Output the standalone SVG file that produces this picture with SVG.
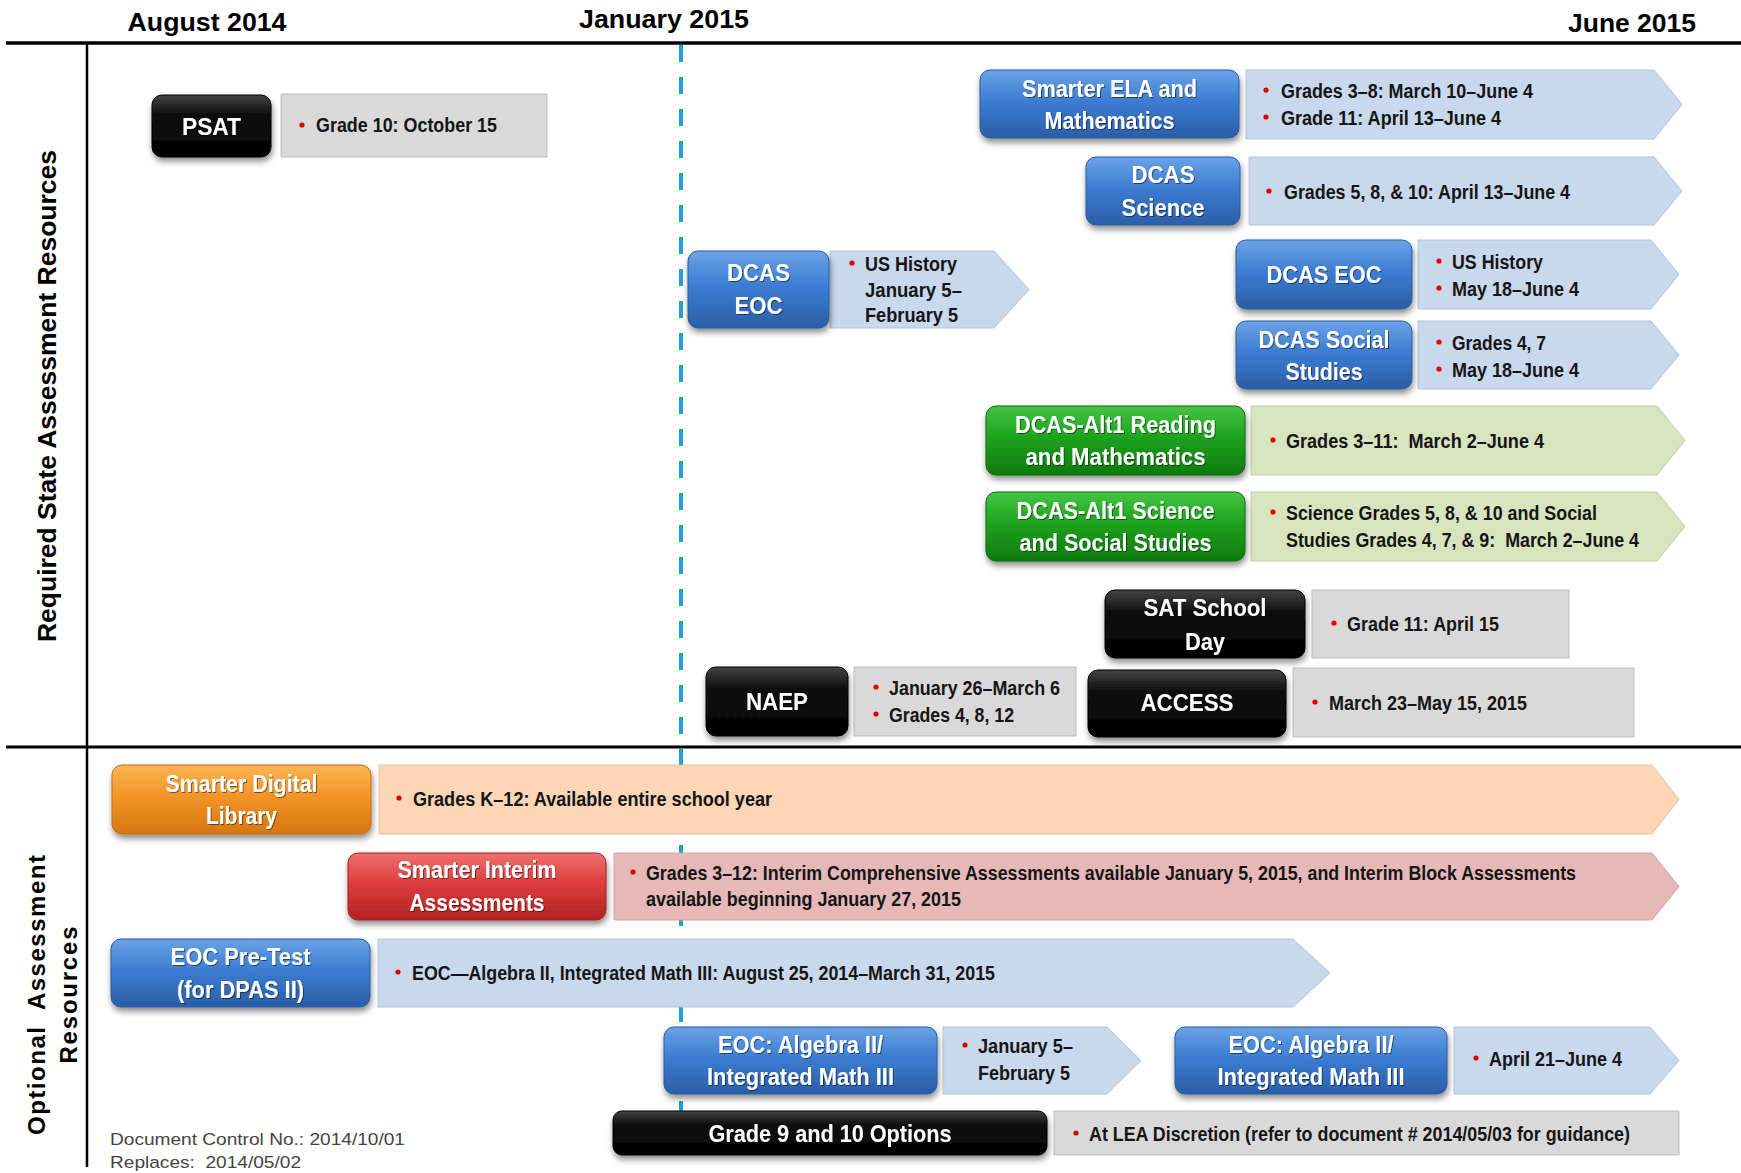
<svg xmlns="http://www.w3.org/2000/svg" width="1741" height="1173" viewBox="0 0 1741 1173">
<defs>
<linearGradient id="gBlue" x1="0" y1="0" x2="0" y2="1"><stop offset="0" stop-color="#6aa3e6"/><stop offset="0.45" stop-color="#3d7dd2"/><stop offset="1" stop-color="#2a5ea8"/></linearGradient>
<linearGradient id="gGreen" x1="0" y1="0" x2="0" y2="1"><stop offset="0" stop-color="#45c445"/><stop offset="0.45" stop-color="#1ea31e"/><stop offset="1" stop-color="#0e7a0e"/></linearGradient>
<linearGradient id="gOrange" x1="0" y1="0" x2="0" y2="1"><stop offset="0" stop-color="#fbb654"/><stop offset="0.45" stop-color="#f39428"/><stop offset="1" stop-color="#d77710"/></linearGradient>
<linearGradient id="gRed" x1="0" y1="0" x2="0" y2="1"><stop offset="0" stop-color="#ef7070"/><stop offset="0.45" stop-color="#dc3d3d"/><stop offset="1" stop-color="#b42222"/></linearGradient>
<linearGradient id="gBlack" x1="0" y1="0" x2="0" y2="1"><stop offset="0" stop-color="#444"/><stop offset="0.3" stop-color="#111"/><stop offset="1" stop-color="#000"/></linearGradient>
<filter id="sh" x="-10%" y="-20%" width="125%" height="150%"><feDropShadow dx="1" dy="4" stdDeviation="3" flood-color="#000" flood-opacity="0.45"/></filter>
<filter id="tsh" x="-5%" y="-20%" width="110%" height="150%"><feDropShadow dx="1" dy="1" stdDeviation="0.6" flood-color="#000" flood-opacity="0.5"/></filter>
</defs>
<style>
text{white-space:pre}
.hdr{font-family:"Liberation Sans",Arial,sans-serif;font-weight:bold;font-size:26px;fill:#000;text-anchor:middle}
.side{font-family:"Liberation Sans",Arial,sans-serif;font-weight:bold;fill:#000;text-anchor:middle}
.t{font-family:"Liberation Sans",Arial,sans-serif;font-weight:bold;font-size:24px;fill:#fff;text-anchor:middle}
.l{font-family:"Liberation Sans",Arial,sans-serif;font-weight:bold;font-size:20px;fill:#151515}
.doc{font-family:"Liberation Sans",Arial,sans-serif;font-size:16px;fill:#444}
.b{fill:#e00000}
.box{stroke-width:1}
.blue{fill:url(#gBlue);stroke:#2a5a9c}
.green{fill:url(#gGreen);stroke:#0d6d0d}
.orange{fill:url(#gOrange);stroke:#c46c10}
.red{fill:url(#gRed);stroke:#a02020}
.black{fill:url(#gBlack);stroke:#000}
.gray{fill:#d9d9d9;stroke:#bdbdbd;stroke-width:1}
.lblue{fill:#c8d8ed;stroke:#b3c4dc;stroke-width:1}
.lgreen{fill:#d8e4be;stroke:#c3d0a8;stroke-width:1}
.lorange{fill:#fcd6b6;stroke:#e8c2a2;stroke-width:1}
.lred{fill:#e6b9b8;stroke:#d2a4a3;stroke-width:1}
</style>
<rect width="1741" height="1173" fill="#fff"/>

<g id="connectors">
<line x1="681" y1="45" x2="681" y2="1160" stroke="#1ea0d8" stroke-width="4" stroke-dasharray="17 15"/>
<line x1="6" y1="43" x2="1741" y2="43" stroke="#000" stroke-width="3.5"/>
<line x1="6" y1="747" x2="1741" y2="747" stroke="#000" stroke-width="3"/>
<line x1="87" y1="43" x2="87" y2="1167" stroke="#000" stroke-width="2.5"/>
</g>

<g id="headers">
<text class="hdr" x="207" y="31" textLength="159" lengthAdjust="spacingAndGlyphs">August 2014</text>
<text class="hdr" x="664" y="28" textLength="170" lengthAdjust="spacingAndGlyphs">January 2015</text>
<text class="hdr" x="1632" y="32" textLength="128" lengthAdjust="spacingAndGlyphs">June 2015</text>
<text class="side" font-size="26" transform="translate(56,396) rotate(-90)" textLength="492" lengthAdjust="spacingAndGlyphs">Required State Assessment Resources</text>
<text class="side" font-size="24" transform="translate(45,995) rotate(-90)" textLength="280" lengthAdjust="spacing">Optional  Assessment</text>
<text class="side" font-size="24" transform="translate(77,995) rotate(-90)" textLength="137" lengthAdjust="spacing">Resources</text>
</g>

<g id="psat">
<polygon class="gray" points="281,94 547,94 547,157 281,157"/>
<rect class="box black" x="152" y="95" width="119" height="62" rx="10" filter="url(#sh)"/>
<text class="t" x="211.5" y="135" textLength="59" lengthAdjust="spacingAndGlyphs" filter="url(#tsh)">PSAT</text>
<circle class="b" cx="302" cy="125" r="2.6"/>
<text class="l" x="316" y="132" textLength="181" lengthAdjust="spacingAndGlyphs">Grade 10: October 15</text>
</g>

<g id="smarter-ela">
<polygon class="lblue" points="1246,70 1654,70 1682,104.5 1654,139 1246,139"/>
<rect class="box blue" x="980" y="70" width="259" height="68" rx="10" filter="url(#sh)"/>
<text class="t" x="1109.5" y="97" textLength="175" lengthAdjust="spacingAndGlyphs" filter="url(#tsh)">Smarter ELA and</text>
<text class="t" x="1109.5" y="129" textLength="130" lengthAdjust="spacingAndGlyphs" filter="url(#tsh)">Mathematics</text>
<circle class="b" cx="1266" cy="90" r="2.6"/>
<text class="l" x="1281" y="97.5" textLength="252" lengthAdjust="spacingAndGlyphs">Grades 3–8: March 10–June 4</text>
<circle class="b" cx="1266" cy="117" r="2.6"/>
<text class="l" x="1281" y="124.5" textLength="220" lengthAdjust="spacingAndGlyphs">Grade 11: April 13–June 4</text>
</g>

<g id="dcas-science">
<polygon class="lblue" points="1249,157 1654,157 1682,191 1654,225 1249,225"/>
<rect class="box blue" x="1086" y="157" width="154" height="68" rx="10" filter="url(#sh)"/>
<text class="t" x="1163" y="183" textLength="63" lengthAdjust="spacingAndGlyphs" filter="url(#tsh)">DCAS</text>
<text class="t" x="1163" y="216" textLength="83" lengthAdjust="spacingAndGlyphs" filter="url(#tsh)">Science</text>
<circle class="b" cx="1269" cy="191" r="2.6"/>
<text class="l" x="1284" y="198.5" textLength="286" lengthAdjust="spacingAndGlyphs">Grades 5, 8, &amp; 10: April 13–June 4</text>
</g>

<g id="dcas-eoc-jan">
<polygon class="lblue" points="830,251 994,251 1029,289.5 994,328 830,328"/>
<rect class="box blue" x="688" y="251" width="141" height="77" rx="10" filter="url(#sh)"/>
<text class="t" x="758.5" y="281" textLength="63" lengthAdjust="spacingAndGlyphs" filter="url(#tsh)">DCAS</text>
<text class="t" x="758.5" y="314" textLength="48" lengthAdjust="spacingAndGlyphs" filter="url(#tsh)">EOC</text>
<circle class="b" cx="852" cy="263" r="2.6"/>
<text class="l" x="865" y="270.5" textLength="92" lengthAdjust="spacingAndGlyphs">US History</text>
<text class="l" x="865" y="296.5" textLength="97" lengthAdjust="spacingAndGlyphs">January 5–</text>
<text class="l" x="865" y="321.5" textLength="93" lengthAdjust="spacingAndGlyphs">February 5</text>
</g>

<g id="dcas-eoc-may">
<polygon class="lblue" points="1418,240 1651,240 1679,274.5 1651,309 1418,309"/>
<rect class="box blue" x="1236" y="240" width="176" height="69" rx="10" filter="url(#sh)"/>
<text class="t" x="1324" y="283" textLength="115" lengthAdjust="spacingAndGlyphs" filter="url(#tsh)">DCAS EOC</text>
<circle class="b" cx="1439" cy="261" r="2.6"/>
<text class="l" x="1452" y="268.5" textLength="91" lengthAdjust="spacingAndGlyphs">US History</text>
<circle class="b" cx="1439" cy="288" r="2.6"/>
<text class="l" x="1452" y="295.5" textLength="127" lengthAdjust="spacingAndGlyphs">May 18–June 4</text>
</g>

<g id="dcas-social">
<polygon class="lblue" points="1418,321 1651,321 1679,355 1651,389 1418,389"/>
<rect class="box blue" x="1236" y="321" width="176" height="68" rx="10" filter="url(#sh)"/>
<text class="t" x="1324" y="348" textLength="131" lengthAdjust="spacingAndGlyphs" filter="url(#tsh)">DCAS Social</text>
<text class="t" x="1324" y="380" textLength="77" lengthAdjust="spacingAndGlyphs" filter="url(#tsh)">Studies</text>
<circle class="b" cx="1439" cy="342" r="2.6"/>
<text class="l" x="1452" y="349.5" textLength="94" lengthAdjust="spacingAndGlyphs">Grades 4, 7</text>
<circle class="b" cx="1439" cy="369" r="2.6"/>
<text class="l" x="1452" y="376.5" textLength="127" lengthAdjust="spacingAndGlyphs">May 18–June 4</text>
</g>

<g id="alt1-reading">
<polygon class="lgreen" points="1251,406 1657,406 1685,440.5 1657,475 1251,475"/>
<rect class="box green" x="986" y="406" width="259" height="69" rx="10" filter="url(#sh)"/>
<text class="t" x="1115.5" y="433" textLength="201" lengthAdjust="spacingAndGlyphs" filter="url(#tsh)">DCAS-Alt1 Reading</text>
<text class="t" x="1115.5" y="465" textLength="180" lengthAdjust="spacingAndGlyphs" filter="url(#tsh)">and Mathematics</text>
<circle class="b" cx="1273" cy="440" r="2.6"/>
<text class="l" x="1286" y="447.5" textLength="258" lengthAdjust="spacingAndGlyphs">Grades 3–11:  March 2–June 4</text>
</g>

<g id="alt1-science">
<polygon class="lgreen" points="1251,492 1657,492 1685,526.5 1657,561 1251,561"/>
<rect class="box green" x="986" y="492" width="259" height="69" rx="10" filter="url(#sh)"/>
<text class="t" x="1115.5" y="519" textLength="198" lengthAdjust="spacingAndGlyphs" filter="url(#tsh)">DCAS-Alt1 Science</text>
<text class="t" x="1115.5" y="551" textLength="192" lengthAdjust="spacingAndGlyphs" filter="url(#tsh)">and Social Studies</text>
<circle class="b" cx="1273" cy="512" r="2.6"/>
<text class="l" x="1286" y="519.5" textLength="311" lengthAdjust="spacingAndGlyphs">Science Grades 5, 8, &amp; 10 and Social</text>
<text class="l" x="1286" y="546.5" textLength="353" lengthAdjust="spacingAndGlyphs">Studies Grades 4, 7, &amp; 9:  March 2–June 4</text>
</g>

<g id="sat">
<polygon class="gray" points="1312,590 1569,590 1569,658 1312,658"/>
<rect class="box black" x="1105" y="590" width="200" height="68" rx="10" filter="url(#sh)"/>
<text class="t" x="1205" y="616" textLength="123" lengthAdjust="spacingAndGlyphs" filter="url(#tsh)">SAT School</text>
<text class="t" x="1205" y="650" textLength="40" lengthAdjust="spacingAndGlyphs" filter="url(#tsh)">Day</text>
<circle class="b" cx="1334" cy="623" r="2.6"/>
<text class="l" x="1347" y="630.5" textLength="152" lengthAdjust="spacingAndGlyphs">Grade 11: April 15</text>
</g>

<g id="naep">
<polygon class="gray" points="854,667 1076,667 1076,736 854,736"/>
<rect class="box black" x="706" y="667" width="142" height="69" rx="10" filter="url(#sh)"/>
<text class="t" x="777" y="710" textLength="62" lengthAdjust="spacingAndGlyphs" filter="url(#tsh)">NAEP</text>
<circle class="b" cx="876" cy="687" r="2.6"/>
<text class="l" x="889" y="694.5" textLength="171" lengthAdjust="spacingAndGlyphs">January 26–March 6</text>
<circle class="b" cx="876" cy="714" r="2.6"/>
<text class="l" x="889" y="721.5" textLength="125" lengthAdjust="spacingAndGlyphs">Grades 4, 8, 12</text>
</g>

<g id="access">
<polygon class="gray" points="1293,668 1634,668 1634,737 1293,737"/>
<rect class="box black" x="1088" y="670" width="198" height="67" rx="10" filter="url(#sh)"/>
<text class="t" x="1187" y="711" textLength="93" lengthAdjust="spacingAndGlyphs" filter="url(#tsh)">ACCESS</text>
<circle class="b" cx="1315" cy="702" r="2.6"/>
<text class="l" x="1329" y="709.5" textLength="198" lengthAdjust="spacingAndGlyphs">March 23–May 15, 2015</text>
</g>

<g id="digital-library">
<polygon class="lorange" points="379,765 1652,765 1679,799.5 1652,834 379,834"/>
<rect class="box orange" x="112" y="765" width="259" height="69" rx="10" filter="url(#sh)"/>
<text class="t" x="241.5" y="792" textLength="152" lengthAdjust="spacingAndGlyphs" filter="url(#tsh)">Smarter Digital</text>
<text class="t" x="241.5" y="824" textLength="71" lengthAdjust="spacingAndGlyphs" filter="url(#tsh)">Library</text>
<circle class="b" cx="399" cy="798" r="2.6"/>
<text class="l" x="413" y="805.5" textLength="359" lengthAdjust="spacingAndGlyphs">Grades K–12: Available entire school year</text>
</g>

<g id="interim">
<polygon class="lred" points="614,853 1652,853 1679,886.5 1652,920 614,920"/>
<rect class="box red" x="348" y="853" width="258" height="67" rx="10" filter="url(#sh)"/>
<text class="t" x="477" y="878" textLength="159" lengthAdjust="spacingAndGlyphs" filter="url(#tsh)">Smarter Interim</text>
<text class="t" x="477" y="911" textLength="135" lengthAdjust="spacingAndGlyphs" filter="url(#tsh)">Assessments</text>
<circle class="b" cx="633" cy="872" r="2.6"/>
<text class="l" x="646" y="879.5" textLength="930" lengthAdjust="spacingAndGlyphs">Grades 3–12: Interim Comprehensive Assessments available January 5, 2015, and Interim Block Assessments</text>
<text class="l" x="646" y="905.5" textLength="315" lengthAdjust="spacingAndGlyphs">available beginning January 27, 2015</text>
</g>

<g id="eoc-pretest">
<polygon class="lblue" points="378,939 1293,939 1330,973 1293,1007 378,1007"/>
<rect class="box blue" x="111" y="939" width="259" height="68" rx="10" filter="url(#sh)"/>
<text class="t" x="240.5" y="965" textLength="140" lengthAdjust="spacingAndGlyphs" filter="url(#tsh)">EOC Pre-Test</text>
<text class="t" x="240.5" y="998" textLength="127" lengthAdjust="spacingAndGlyphs" filter="url(#tsh)">(for DPAS II)</text>
<circle class="b" cx="398" cy="972" r="2.6"/>
<text class="l" x="412" y="979.5" textLength="583" lengthAdjust="spacingAndGlyphs">EOC—Algebra II, Integrated Math III: August 25, 2014–March 31, 2015</text>
</g>

<g id="eoc-algebra-jan">
<polygon class="lblue" points="943,1027 1107,1027 1141,1060.5 1107,1094 943,1094"/>
<rect class="box blue" x="664" y="1027" width="273" height="67" rx="10" filter="url(#sh)"/>
<text class="t" x="800.5" y="1053" textLength="165" lengthAdjust="spacingAndGlyphs" filter="url(#tsh)">EOC: Algebra II/</text>
<text class="t" x="800.5" y="1085" textLength="187" lengthAdjust="spacingAndGlyphs" filter="url(#tsh)">Integrated Math III</text>
<circle class="b" cx="965" cy="1045" r="2.6"/>
<text class="l" x="978" y="1052.5" textLength="95" lengthAdjust="spacingAndGlyphs">January 5–</text>
<text class="l" x="978" y="1079.5" textLength="92" lengthAdjust="spacingAndGlyphs">February 5</text>
</g>

<g id="eoc-algebra-apr">
<polygon class="lblue" points="1454,1027 1650,1027 1679,1060.5 1650,1094 1454,1094"/>
<rect class="box blue" x="1175" y="1027" width="272" height="67" rx="10" filter="url(#sh)"/>
<text class="t" x="1311" y="1053" textLength="165" lengthAdjust="spacingAndGlyphs" filter="url(#tsh)">EOC: Algebra II/</text>
<text class="t" x="1311" y="1085" textLength="187" lengthAdjust="spacingAndGlyphs" filter="url(#tsh)">Integrated Math III</text>
<circle class="b" cx="1476" cy="1058" r="2.6"/>
<text class="l" x="1489" y="1065.5" textLength="133" lengthAdjust="spacingAndGlyphs">April 21–June 4</text>
</g>

<g id="grade-9-10">
<polygon class="gray" points="1054,1111 1679,1111 1679,1155 1054,1155"/>
<rect class="box black" x="613" y="1111" width="434" height="44" rx="9" filter="url(#sh)"/>
<text class="t" x="830" y="1142" textLength="243" lengthAdjust="spacingAndGlyphs" filter="url(#tsh)">Grade 9 and 10 Options</text>
<circle class="b" cx="1076" cy="1133" r="2.6"/>
<text class="l" x="1089" y="1140.5" textLength="541" lengthAdjust="spacingAndGlyphs">At LEA Discretion (refer to document # 2014/05/03 for guidance)</text>
</g>

<g id="doc-control">
<text class="doc" x="110" y="1145" textLength="295" lengthAdjust="spacingAndGlyphs">Document Control No.: 2014/10/01</text>
<text class="doc" x="110" y="1168" textLength="191" lengthAdjust="spacingAndGlyphs">Replaces:  2014/05/02</text>
</g>
</svg>
